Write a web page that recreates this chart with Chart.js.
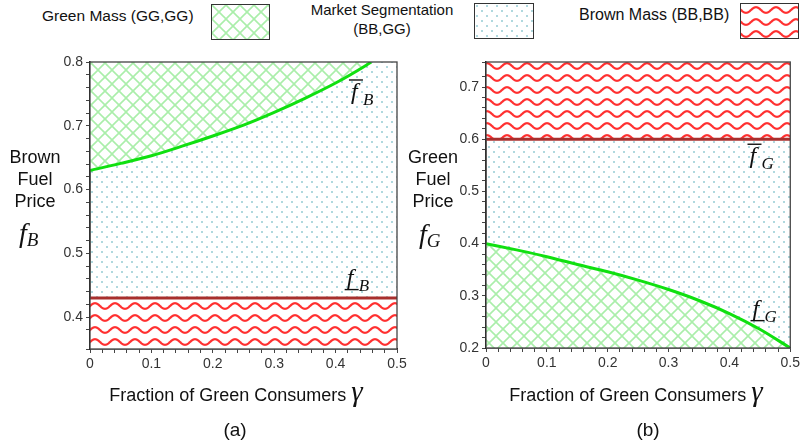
<!DOCTYPE html>
<html>
<head>
<meta charset="utf-8">
<script src="https://cdn.jsdelivr.net/npm/chart.js@4.4.0/dist/chart.umd.min.js"></script>
<style>
  body { margin: 0; background: #fff; }
  #wrap { position: relative; width: 803px; height: 444px; overflow: hidden;
          font-family: 'Liberation Sans', Arial, sans-serif; color: #111; }
  canvas.plot { position: absolute; top: 0; }
  .t { position: absolute; white-space: nowrap; }
  .sw { position: absolute; box-sizing: border-box; border: 1.5px solid #333; }
  .mi { font-family: 'Liberation Serif', serif; font-style: italic; }
</style>
</head>
<body>
<div id="wrap">
  <!-- legend -->
  <div class="t" style="left:42px; top:6px; font-size:15.5px; line-height:19px;">Green Mass (GG,GG)</div>
  <canvas class="sw" id="swGreen" width="57" height="34" style="left:211px; top:4px;"></canvas>
  <div class="t" style="left:302px; top:0px; width:160px; text-align:center; font-size:15px; line-height:19px;">Market Segmentation<br>(BB,GG)</div>
  <canvas class="sw" id="swSeg" width="58" height="34" style="left:474px; top:3px;"></canvas>
  <div class="t" style="left:579px; top:5px; font-size:16px; line-height:19px;">Brown Mass (BB,BB)</div>
  <canvas class="sw" id="swBrown" width="57" height="34" style="left:740px; top:3px;"></canvas>

  <canvas class="plot" id="chartA" width="412" height="444" style="left:0px;"></canvas>
  <canvas class="plot" id="chartB" width="391" height="444" style="left:412px;"></canvas>

  <!-- panel (a) axis titles -->
  <div class="t" style="left:0px; top:146px; width:70px; text-align:center; font-size:18px; line-height:22px;">Brown<br>Fuel<br>Price</div>
  <div class="t" style="left:19px; top:220px; line-height:26px;"><span class="mi" style="font-size:28px;">f</span><span class="mi" style="font-size:19px; position:relative; top:4px;">B</span></div>
  <div class="t" style="left:36px; top:379px; width:400px; text-align:center; font-size:18px; line-height:24px;">Fraction of Green Consumers <span class="mi" style="font-size:29px;">&#947;</span></div>
  <div class="t" style="left:185px; top:418px; width:100px; text-align:center; font-size:19px; line-height:24px;">(a)</div>

  <!-- panel (b) axis titles -->
  <div class="t" style="left:398px; top:146px; width:70px; text-align:center; font-size:18px; line-height:22px;">Green<br>Fuel<br>Price</div>
  <div class="t" style="left:419px; top:221px; line-height:26px;"><span class="mi" style="font-size:28px;">f</span><span class="mi" style="font-size:19px; position:relative; top:4px;">G</span></div>
  <div class="t" style="left:436px; top:379px; width:400px; text-align:center; font-size:18px; line-height:24px;">Fraction of Green Consumers <span class="mi" style="font-size:29px;">&#947;</span></div>
  <div class="t" style="left:598px; top:418px; width:100px; text-align:center; font-size:19px; line-height:24px;">(b)</div>
</div>

<script>
// (a) brown fuel thresholds
const gammaA = [0, 0.05, 0.1, 0.15, 0.2, 0.25, 0.3, 0.35, 0.4, 0.45, 0.458];
const upperBrown = [0.630, 0.641, 0.653, 0.668, 0.684, 0.701, 0.721, 0.743, 0.767, 0.795, 0.800];
const lowerBrown = [0.43, 0.43];

// (b) green fuel thresholds
const gammaB = [0, 0.05, 0.1, 0.15, 0.2, 0.25, 0.3, 0.35, 0.4, 0.45, 0.5];
const lowerGreen = [0.400, 0.388, 0.375, 0.360, 0.346, 0.330, 0.312, 0.291, 0.266, 0.236, 0.200];
const upperGreen = [0.6, 0.6];

const gammaEnds = [0, 0.5];
const majorTicks = [0, 0.1, 0.2, 0.3, 0.4, 0.5, 0.6, 0.7, 0.8];

// curve labels: [gamma, f, subscript, bar position]
const labelsA = [[0.425, 0.742, 'B', 'over'], [0.418, 0.451, 'B', 'under']];
const labelsB = [[0.433, 0.554, 'G', 'over'], [0.438, 0.262, 'G', 'under']];

const GREEN = '#10e010';
const DARK_RED = '#a8302e';

// pattern tiles
function makeTile(w, h, draw) {
    const c = document.createElement('canvas');
    c.width = w; c.height = h;
    const g = c.getContext('2d');
    g.fillStyle = '#fff';
    g.fillRect(0, 0, w, h);
    draw(g, w, h);
    return c;
}

const hatchTile = makeTile(14, 14, (g, w, h) => {
    g.strokeStyle = '#aaeeaa';
    g.lineWidth = 1.6;
    for (const o of [-w, 0, w]) {
        g.beginPath(); g.moveTo(o, 0); g.lineTo(o + w, h); g.stroke();
        g.beginPath(); g.moveTo(o + w, 0); g.lineTo(o, h); g.stroke();
    }
});

const waveTile = makeTile(20, 12, (g, w, h) => {
    g.strokeStyle = '#ff3030';
    g.lineWidth = 2.2;
    for (const oy of [-h, 0, h]) {
        g.beginPath();
        for (let x = -2; x <= w + 2; x += 0.5) {
            const y = h / 2 + oy + 2.8 * Math.sin(2 * Math.PI * x / w);
            if (x === -2) g.moveTo(x, y); else g.lineTo(x, y);
        }
        g.stroke();
    }
});

const dotTile = makeTile(10, 10, (g) => {
    g.fillStyle = '#b0d8de';
    g.fillRect(1, 1, 2, 2);
    g.fillRect(6, 6, 2, 2);
});

const pts = (xs, ys) => xs.map((x, i) => ({ x: x, y: ys[i] }));

// dotted background + frame + curve labels
const panelPlugin = {
    id: 'panel',
    beforeDraw(chart) {
        const { ctx, chartArea: a } = chart;
        ctx.save();
        ctx.fillStyle = ctx.createPattern(dotTile, 'repeat');
        ctx.fillRect(a.left, a.top, a.right - a.left, a.bottom - a.top);
        ctx.restore();
    },
    afterDraw(chart) {
        const { ctx, chartArea: a, scales } = chart;
        ctx.save();
        ctx.strokeStyle = '#444';
        ctx.lineWidth = 1.3;
        ctx.strokeRect(a.left, a.top, a.right - a.left, a.bottom - a.top);

        const labels = chart.options.plugins.panel.labels;
        labels.forEach(([gx, fy, sub, bar]) => {
            const px = scales.x.getPixelForValue(gx);
            const py = scales.y.getPixelForValue(fy);
            ctx.fillStyle = '#111';
            ctx.strokeStyle = '#111';
            ctx.font = "italic 24px 'Liberation Serif'";
            ctx.textBaseline = 'alphabetic';
            ctx.fillText('f', px, py);
            ctx.font = "italic 17px 'Liberation Serif'";
            ctx.fillText(sub, px + 12, py + 6);
            ctx.lineWidth = 1.4;
            ctx.beginPath();
            const by = bar === 'over' ? py - 19 : py + 5;
            ctx.moveTo(px - 2, by);
            ctx.lineTo(px + 12, by);
            ctx.stroke();
        });
        ctx.restore();
    }
};

function axisOptions(min, max, fixSize) {
    return {
        type: 'linear',
        min: min,
        max: max,
        afterFit: fixSize,
        grid: { drawOnChartArea: false, drawTicks: true, tickLength: 4, color: '#444' },
        border: { display: true, color: '#111', width: 1.5 },
        ticks: {
            stepSize: 0.02,
            autoSkip: false,
            maxRotation: 0,
            padding: 3,
            color: '#333',
            font: { family: 'Liberation Sans', size: 14 },
            callback: (v) => {
                const hit = majorTicks.find(m => Math.abs(m - v) < 1e-6);
                if (hit === undefined) return '';
                return hit === 0 ? '0' : hit.toFixed(1);
            }
        }
    };
}

function buildChart(id, datasets, yMin, yMax, yWidth, xHeight, padRight, labels) {
    const ctx = document.getElementById(id).getContext('2d');
    return new Chart(ctx, {
        type: 'line',
        data: { datasets: datasets(ctx) },
        options: {
            responsive: false,
            animation: false,
            events: [],
            layout: { padding: { top: 62, right: padRight, left: 0, bottom: 0 } },
            elements: { point: { radius: 0 }, line: { cubicInterpolationMode: 'monotone' } },
            scales: {
                x: axisOptions(0, 0.5, s => { s.height = xHeight; }),
                y: axisOptions(yMin, yMax, s => { s.width = yWidth; })
            },
            plugins: {
                legend: { display: false },
                tooltip: { enabled: false },
                panel: { labels: labels }
            }
        },
        plugins: [panelPlugin]
    });
}

// (a) Brown fuel price
buildChart('chartA', (ctx) => [
    {
        data: pts(gammaA, upperBrown),
        borderColor: GREEN,
        borderWidth: 3,
        fill: 'end',
        backgroundColor: ctx.createPattern(hatchTile, 'repeat')
    },
    {
        data: pts(gammaEnds, lowerBrown),
        borderColor: DARK_RED,
        borderWidth: 3,
        fill: 'start',
        backgroundColor: ctx.createPattern(waveTile, 'repeat')
    }
], 0.35, 0.8, 90, 95, 15, labelsA);

// (b) Green fuel price
buildChart('chartB', (ctx) => [
    {
        data: pts(gammaB, lowerGreen),
        borderColor: GREEN,
        borderWidth: 3,
        fill: 'start',
        backgroundColor: ctx.createPattern(hatchTile, 'repeat')
    },
    {
        data: pts(gammaEnds, upperGreen),
        borderColor: DARK_RED,
        borderWidth: 3,
        fill: 'end',
        backgroundColor: ctx.createPattern(waveTile, 'repeat')
    }
], 0.2, 0.748, 74, 96, 11, labelsB);

// legend swatches
[['swGreen', hatchTile], ['swSeg', dotTile], ['swBrown', waveTile]].forEach(([id, tile]) => {
    const c = document.getElementById(id);
    const g = c.getContext('2d');
    g.fillStyle = g.createPattern(tile, 'repeat');
    g.fillRect(0, 0, c.width, c.height);
});
</script>
</body>
</html>
